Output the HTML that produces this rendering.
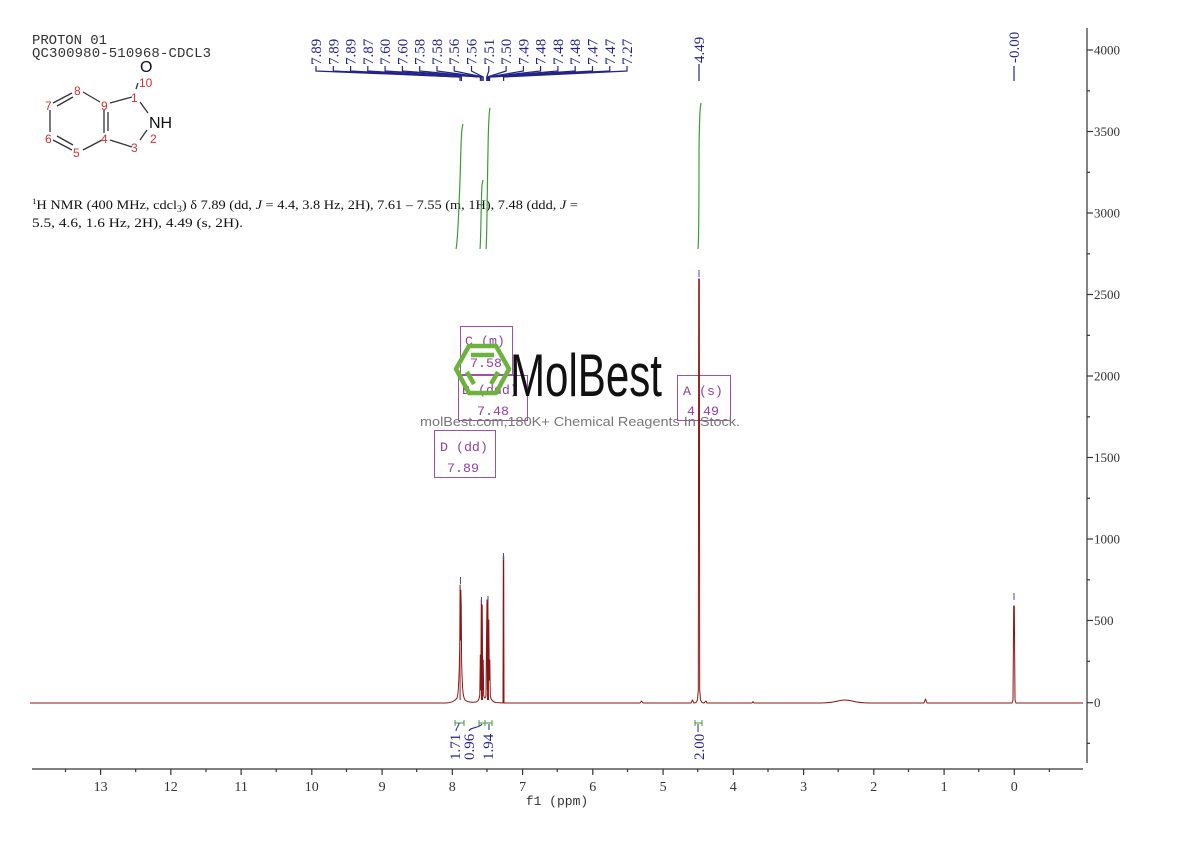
<!DOCTYPE html>
<html><head><meta charset="utf-8"><style>
html,body{margin:0;padding:0;background:#fff;}
svg{display:block;}
.ser{font-family:"Liberation Serif","Noto Serif CJK SC",serif;}
.mono{font-family:"Liberation Mono","Noto Sans CJK SC",monospace;}
.sans{font-family:"Liberation Sans","Noto Sans CJK SC",sans-serif;}
</style></head><body>
<svg width="1190" height="841" viewBox="0 0 1190 841" xmlns="http://www.w3.org/2000/svg">
<rect width="1190" height="841" fill="#fff"/>

<!-- header -->
<text class="mono" x="32" y="44" font-size="14" fill="#333" textLength="75">PROTON 01</text>
<text class="mono" x="32" y="57" font-size="14" fill="#333" textLength="179">QC300980-510968-CDCL3</text>

<!-- structure -->
<g stroke="#333" stroke-width="1.3" fill="none">
<line x1="72" y1="93" x2="53" y2="103"/><line x1="73" y1="97" x2="57" y2="106"/>
<line x1="50" y1="110" x2="50" y2="132"/>
<line x1="53" y1="140" x2="72" y2="150"/><line x1="57" y1="136" x2="73" y2="145"/>
<line x1="83" y1="150" x2="102" y2="140"/>
<line x1="104" y1="110" x2="104" y2="133"/><line x1="108" y1="112" x2="108" y2="131"/>
<line x1="100" y1="102" x2="83" y2="92"/>
<line x1="110" y1="103" x2="132" y2="97"/>
<line x1="140" y1="102" x2="148" y2="113"/>
<line x1="147" y1="130" x2="140" y2="140"/>
<line x1="132" y1="147" x2="110" y2="140"/>
<line x1="138" y1="83" x2="136" y2="89"/>
</g>
<g class="sans" font-size="12" fill="#d03030">
<text x="74" y="95">8</text><text x="45" y="110">7</text><text x="101" y="110">9</text>
<text x="131" y="102">1</text><text x="45" y="143">6</text><text x="101" y="143">4</text>
<text x="73" y="157">5</text><text x="131" y="152">3</text><text x="150" y="143">2</text>
<text x="139" y="87">10</text>
</g>
<text class="sans" x="140" y="72" font-size="16" fill="#111">O</text>
<text class="sans" x="149" y="128" font-size="16" fill="#111">NH</text>

<!-- NMR text -->
<text class="ser" x="32" y="209" font-size="13" fill="#111" textLength="546" lengthAdjust="spacingAndGlyphs"><tspan font-size="8" dy="-5">1</tspan><tspan dy="5">H NMR (400 MHz, cdcl</tspan><tspan font-size="9" dy="3">3</tspan><tspan dy="-3">) δ 7.89 (dd, </tspan><tspan font-style="italic">J</tspan><tspan> = 4.4, 3.8 Hz, 2H), 7.61 – 7.55 (m, 1H), 7.48 (ddd, </tspan><tspan font-style="italic">J</tspan><tspan> =</tspan></text>
<text class="ser" x="32" y="227" font-size="13" fill="#111" textLength="211" lengthAdjust="spacingAndGlyphs">5.5, 4.6, 1.6 Hz, 2H), 4.49 (s, 2H).</text>

<!-- peak labels -->
<g class="ser" font-size="15" fill="#23238a">
<text transform="translate(321,65) rotate(-90)">7.89</text>
<text transform="translate(338.3,65) rotate(-90)">7.89</text>
<text transform="translate(355.6,65) rotate(-90)">7.89</text>
<text transform="translate(372.8,65) rotate(-90)">7.87</text>
<text transform="translate(390.1,65) rotate(-90)">7.60</text>
<text transform="translate(407.4,65) rotate(-90)">7.60</text>
<text transform="translate(424.7,65) rotate(-90)">7.58</text>
<text transform="translate(442,65) rotate(-90)">7.58</text>
<text transform="translate(459.2,65) rotate(-90)">7.56</text>
<text transform="translate(476.5,65) rotate(-90)">7.56</text>
<text transform="translate(493.8,65) rotate(-90)">7.51</text>
<text transform="translate(511.1,65) rotate(-90)">7.50</text>
<text transform="translate(528.4,65) rotate(-90)">7.49</text>
<text transform="translate(545.6,65) rotate(-90)">7.48</text>
<text transform="translate(562.9,65) rotate(-90)">7.48</text>
<text transform="translate(580.2,65) rotate(-90)">7.48</text>
<text transform="translate(597.5,65) rotate(-90)">7.47</text>
<text transform="translate(614.8,65) rotate(-90)">7.47</text>
<text transform="translate(632,65) rotate(-90)">7.27</text>
<text transform="translate(704,63) rotate(-90)">4.49</text>
<text transform="translate(1019,63) rotate(-90)">-0.00</text>
</g>
<g stroke="#23238a" stroke-width="1.2" fill="none">
<path d="M316,66 L316,71 L460,77 L460,81"/>
<path d="M333.3,66 L333.3,71 L460,77"/>
<path d="M350.6,66 L350.6,71 L460,77"/>
<path d="M367.8,66 L367.8,71 L461.4,77 L461.4,81"/>
<path d="M385.1,66 L385.1,71 L480.4,77 L480.4,81"/>
<path d="M402.4,66 L402.4,71 L480.4,77"/>
<path d="M419.7,66 L419.7,71 L481.8,77 L481.8,81"/>
<path d="M437,66 L437,71 L481.8,77"/>
<path d="M454.2,66 L454.2,71 L483.2,77 L483.2,81"/>
<path d="M471.5,66 L471.5,71 L483.2,77"/>
<path d="M488.8,66 L488.8,71 L486.7,77 L486.7,81"/>
<path d="M506.1,66 L506.1,71 L487.4,77 L487.4,81"/>
<path d="M523.4,66 L523.4,71 L488.1,77 L488.1,81"/>
<path d="M540.6,66 L540.6,71 L488.9,77 L488.9,81"/>
<path d="M557.9,66 L557.9,71 L488.9,77"/>
<path d="M575.2,66 L575.2,71 L488.9,77"/>
<path d="M592.5,66 L592.5,71 L489.6,77 L489.6,81"/>
<path d="M609.8,66 L609.8,71 L489.6,77"/>
<path d="M627,66 L627,71 L503.6,77 L503.6,81"/>
<path d="M699,64 L699,81"/>
<path d="M1014,66 L1014,81"/>
</g>

<!-- integration curves -->
<g stroke="#3f9a3a" stroke-width="1.2" fill="none">
<path d="M456,249 C458,240 459,205 460,180 C461,150 461,130 463,124"/>
<path d="M480,249 C481,240 481,200 482,185 L483,180"/>
<path d="M486,249 C487,240 487,200 488,150 C488.5,120 489,112 490,108"/>
<path d="M698,249 C699,240 699,200 699,150 C699.5,115 700,108 701,103"/>
</g>

<!-- boxes -->
<g stroke="#a050a8" stroke-width="1" fill="none">
<rect x="460.5" y="326.5" width="52" height="48"/>
<rect x="458.5" y="375.5" width="69" height="45"/>
<rect x="434.5" y="430.5" width="61" height="47"/>
<rect x="677.5" y="375.5" width="53" height="45"/>
</g>
<g class="mono" font-size="13.3" fill="#9040a0">
<text x="465" y="345">C (m)</text><text x="470" y="367">7.58</text>
<text x="462" y="394">B (ddd)</text><text x="477" y="415">7.48</text>
<text x="440" y="451">D (dd)</text><text x="447" y="472">7.89</text>
<text x="683" y="395">A (s)</text><text x="687" y="415">4.49</text>
</g>

<!-- watermark -->
<g stroke="#6cb33c" stroke-width="4.5" fill="none" stroke-linejoin="round">
<polygon points="456,369 469,346 496,346 509,369 496,393 469,393"/>
<line x1="471" y1="355" x2="494" y2="355"/>
<line x1="467" y1="372" x2="474" y2="384"/>
<line x1="498" y1="372" x2="491" y2="384"/>
</g>
<text class="sans" x="510" y="396" font-size="60" fill="#111" textLength="152" lengthAdjust="spacingAndGlyphs">MolBest</text>
<text class="sans" x="420" y="426" font-size="13" fill="#777" textLength="320" lengthAdjust="spacingAndGlyphs">molBest.com,180K+ Chemical Reagents In Stock.</text>

<!-- spectrum -->
<path fill="none" stroke="#8b1414" stroke-width="1" stroke-linejoin="round" d="M30,703 L445,703 C452,703 455,701 457,698 C458.5,695 459.3,680 459.8,640 L460.1,585 L460.5,640 L460.8,590 L461.2,605 L461.6,660 C462.3,690 463,697 465,700 C468,702.5 472,702.5 476,702 C478,701.5 479,700 479.8,695 L480.3,655 L480.8,690 L481.3,600 L481.7,690 L482.2,605 L482.7,690 L483.2,660 L483.7,695 C484.5,699 485.5,699 486,695 L486.5,640 L487,600 L487.4,690 L487.9,598 L488.3,690 L488.8,620 L489.3,680 L489.8,660 L490.3,696 C491,700 493,702 496,702.5 L503,703 L503.3,556 L503.7,556 L504,703 L640,703 L641.5,701 L643,703 L691,703 L692.5,700 L694,703 L696,702.5 L697.5,700 L698.3,690 L698.7,279 L699.3,279 L699.7,690 L700.5,700 L702,702.5 L704,703 L706,701 L707,703 L752,703 L753,701.5 L754,703 L820,703 C835,703 838,700 845,700 C852,700 855,703 870,703 L924,703 L925.5,699 L927,703 L1012,703 L1013,700 L1013.7,606 L1014.3,606 L1015,700 L1016,703 L1083,703"/>
<path fill="#8b1414" d="M459.6,700 L460.1,586 L460.6,700 Z M481,700 L481.3,601 L482.5,606 L483,700 Z M487,700 L487.9,599 L489,700 Z"/>
<!-- peak top ticks -->
<g stroke="#4a4aa8" stroke-width="1">
<line x1="460.5" y1="577" x2="460.5" y2="584"/>
<line x1="481.5" y1="597" x2="481.5" y2="604"/>
<line x1="488" y1="596" x2="488" y2="603"/>
<line x1="503.5" y1="553" x2="503.5" y2="560"/>
<line x1="699" y1="270" x2="699" y2="277"/>
<line x1="1014" y1="593" x2="1014" y2="600"/>
</g>

<!-- integrals -->
<g stroke="#3f9a3a" stroke-width="1" fill="none">
<path d="M455,723 L464,723 M455,720 L455,726 M464,720 L464,726"/>
<path d="M479,723 L492,723 M479,720 L479,726 M485,720 L485,726 M492,720 L492,726"/>
<path d="M695,723 L702,723 M695,720 L695,726 M702,720 L702,726"/>
</g>
<g stroke="#23238a" stroke-width="1" fill="none">
<path d="M459,723 C459,727 456,727 456,731"/>
<path d="M482,724 C480,728 470,727 469,731"/>
<path d="M489,724 L489,730"/>
<path d="M698,724 L698,732"/>
</g>
<g class="ser" font-size="15" fill="#23238a">
<text transform="translate(460,760) rotate(-90)">1.71</text>
<text transform="translate(474,760) rotate(-90)">0.96</text>
<text transform="translate(493,760) rotate(-90)">1.94</text>
<text transform="translate(704,760) rotate(-90)">2.00</text>
</g>

<!-- right axis -->
<g stroke="#333" stroke-width="1.2">
<line x1="1087" y1="28" x2="1087" y2="763"/>
<line x1="1087" y1="50" x2="1093" y2="50"/><line x1="1087" y1="90.8" x2="1090" y2="90.8"/>
<line x1="1087" y1="131.5" x2="1093" y2="131.5"/><line x1="1087" y1="172.3" x2="1090" y2="172.3"/>
<line x1="1087" y1="213" x2="1093" y2="213"/><line x1="1087" y1="253.8" x2="1090" y2="253.8"/>
<line x1="1087" y1="294.5" x2="1093" y2="294.5"/><line x1="1087" y1="335.3" x2="1090" y2="335.3"/>
<line x1="1087" y1="376" x2="1093" y2="376"/><line x1="1087" y1="416.8" x2="1090" y2="416.8"/>
<line x1="1087" y1="457.5" x2="1093" y2="457.5"/><line x1="1087" y1="498.3" x2="1090" y2="498.3"/>
<line x1="1087" y1="539" x2="1093" y2="539"/><line x1="1087" y1="579.8" x2="1090" y2="579.8"/>
<line x1="1087" y1="620.5" x2="1093" y2="620.5"/><line x1="1087" y1="661.3" x2="1090" y2="661.3"/>
<line x1="1087" y1="702.7" x2="1093" y2="702.7"/><line x1="1087" y1="743.3" x2="1090" y2="743.3"/>
</g>
<g class="ser" font-size="13" fill="#333">
<text x="1094" y="54.5">4000</text><text x="1094" y="136">3500</text><text x="1094" y="217.5">3000</text>
<text x="1094" y="299">2500</text><text x="1094" y="380.5">2000</text><text x="1094" y="462">1500</text>
<text x="1094" y="543.5">1000</text><text x="1094" y="625">500</text><text x="1094" y="707">0</text>
</g>

<!-- x axis -->
<g stroke="#333" stroke-width="1.2">
<line x1="32" y1="769" x2="1083" y2="769"/>
<line x1="100.6" y1="769" x2="100.6" y2="775"/><line x1="170.8" y1="769" x2="170.8" y2="775"/>
<line x1="241.1" y1="769" x2="241.1" y2="775"/><line x1="311.8" y1="769" x2="311.8" y2="775"/>
<line x1="382.1" y1="769" x2="382.1" y2="775"/><line x1="452.3" y1="769" x2="452.3" y2="775"/>
<line x1="522.6" y1="769" x2="522.6" y2="775"/><line x1="592.8" y1="769" x2="592.8" y2="775"/>
<line x1="663.1" y1="769" x2="663.1" y2="775"/><line x1="733.3" y1="769" x2="733.3" y2="775"/>
<line x1="803.6" y1="769" x2="803.6" y2="775"/><line x1="873.8" y1="769" x2="873.8" y2="775"/>
<line x1="944.1" y1="769" x2="944.1" y2="775"/><line x1="1014.3" y1="769" x2="1014.3" y2="775"/>
<line x1="65.5" y1="769" x2="65.5" y2="772"/><line x1="135.7" y1="769" x2="135.7" y2="772"/>
<line x1="206" y1="769" x2="206" y2="772"/><line x1="276.2" y1="769" x2="276.2" y2="772"/>
<line x1="346.5" y1="769" x2="346.5" y2="772"/><line x1="416.7" y1="769" x2="416.7" y2="772"/>
<line x1="487" y1="769" x2="487" y2="772"/><line x1="557.2" y1="769" x2="557.2" y2="772"/>
<line x1="627.5" y1="769" x2="627.5" y2="772"/><line x1="697.7" y1="769" x2="697.7" y2="772"/>
<line x1="768" y1="769" x2="768" y2="772"/><line x1="838.2" y1="769" x2="838.2" y2="772"/>
<line x1="908.5" y1="769" x2="908.5" y2="772"/><line x1="978.7" y1="769" x2="978.7" y2="772"/>
<line x1="1049.4" y1="769" x2="1049.4" y2="772"/>
</g>
<g class="ser" font-size="14" fill="#333" text-anchor="middle">
<text x="100.6" y="791">13</text><text x="170.8" y="791">12</text><text x="241.1" y="791">11</text>
<text x="311.8" y="791">10</text><text x="382.1" y="791">9</text><text x="452.3" y="791">8</text>
<text x="522.6" y="791">7</text><text x="592.8" y="791">6</text><text x="663.1" y="791">5</text>
<text x="733.3" y="791">4</text><text x="803.6" y="791">3</text><text x="873.8" y="791">2</text>
<text x="944.1" y="791">1</text><text x="1014.3" y="791">0</text>
</g>
<text class="mono" x="557" y="805" font-size="13" fill="#333" text-anchor="middle">f1 (ppm)</text>
</svg>
</body></html>
